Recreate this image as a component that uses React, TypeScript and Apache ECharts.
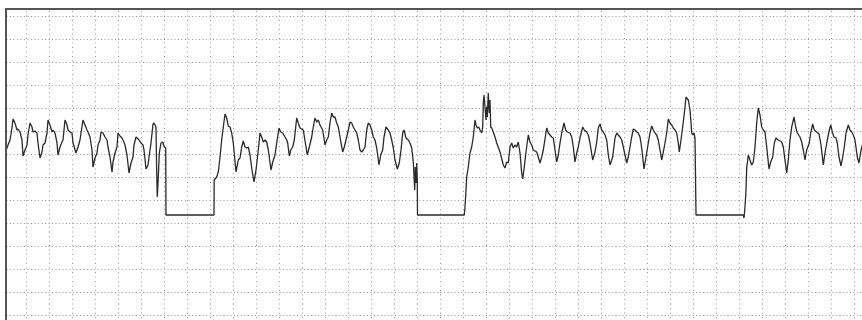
import React, { useEffect, useRef } from 'react';
import * as echarts from 'echarts';

// x: sample index, y: amplitude (arbitrary units); grid cell = 23 units on both axes
const DROPOUT = 123;

const seg1: [number, number][] = [
  [3, 188], [4, 190], [5, 193], [7, 198], [9, 210], [10, 219], [12, 215], [14, 208], [15, 209], [17, 206], [19, 198], [20, 182],
  [22, 188], [24, 193], [25, 203], [27, 215], [29, 211], [30, 206], [32, 207], [34, 205], [35, 195], [37, 180],
  [39, 186], [40, 193], [42, 195], [44, 205], [45, 218], [47, 213], [49, 206], [50, 208], [52, 205], [54, 195], [55, 183],
  [57, 191], [59, 196], [60, 198], [62, 218], [64, 213], [65, 208], [67, 206], [69, 205], [70, 195], [73, 185],
  [75, 191], [77, 198], [80, 218], [82, 213], [84, 208], [85, 206], [87, 201], [89, 188], [90, 171],
  [92, 180], [94, 185], [95, 193], [97, 198], [98, 206], [100, 205], [102, 201], [104, 198], [105, 191], [107, 181], [109, 166],
  [110, 176], [112, 185], [114, 191], [115, 205], [117, 202], [119, 200], [120, 198], [122, 193], [124, 183], [126, 165],
  [128, 175], [130, 181], [131, 193], [133, 201], [135, 199], [136, 198], [138, 195], [140, 193], [141, 188], [143, 169],
  [145, 173], [146, 181], [148, 195], [150, 214], [151, 215], [153, 211], [153.7, 165], [154.3, 141], [155.3, 161],
  [156.3, 185], [158, 195], [159.7, 196], [161.3, 191], [162.7, 190], [163, DROPOUT],
];

const gap1: [number, number][] = [[211, DROPOUT]];

const seg2: [number, number][] = [
  [211.2, 158], [213.7, 161], [215.3, 166], [217, 181], [218.7, 198], [220.3, 211], [222, 224], [223.7, 220], [225.3, 212],
  [227, 211], [228.7, 205], [230.3, 195], [233, 166], [235.3, 178], [237, 180], [238.7, 191], [240.3, 197], [242, 191],
  [243.7, 190], [245.3, 191], [247, 183], [248.7, 170], [251, 156], [253, 168], [255.3, 188], [257, 205], [258.7, 201],
  [260.3, 196], [262, 198], [263.7, 196], [265.3, 188], [268, 168], [269.7, 176], [272, 183], [273.7, 195], [276, 210],
  [277.7, 206], [279.7, 205], [282, 201], [283.7, 198], [284.7, 195], [286.3, 182], [287.7, 188], [289.7, 191], [291.3, 198],
  [293.7, 220], [295.3, 215], [297, 210], [300.3, 208], [303, 191], [304.3, 183], [306.3, 191], [308.7, 201], [310.3, 211],
  [312, 220], [313.7, 216], [315.3, 218], [317, 213], [319.7, 208], [322, 193], [323.7, 198], [325.3, 201], [327, 215],
  [328.7, 225], [330.3, 221], [332, 221], [333.7, 215], [335.3, 211], [337, 201], [339.7, 186], [341.3, 191], [343.7, 201],
  [345.3, 208], [347, 216], [348.7, 215], [350.3, 211], [352, 208], [353.7, 205], [355.3, 198], [357, 188], [358.7, 186],
  [360.3, 188], [362, 191], [363.7, 208], [365.3, 215], [367, 213], [368.7, 208], [370.3, 201], [372, 198], [373.7, 190],
  [376, 173], [377.7, 183], [379.7, 188], [381, 201], [383, 211], [385.3, 208], [387, 205], [388.7, 198], [390.3, 190],
  [392, 178], [394.3, 169], [396.3, 175], [398, 188], [399.7, 205], [401, 208], [403, 200], [405.3, 198], [407, 195],
  [408.7, 190], [410.3, 176], [411.7, 148], [412.3, 171], [413, 155], [413.7, 175], [414.3, 158], [414.5, DROPOUT],
];

const gap2: [number, number][] = [[461.3, DROPOUT]];

const seg3: [number, number][] = [
  [462, 131], [463, 148], [463.7, 161], [465.3, 171], [467, 185], [468.7, 191], [470.3, 201], [472, 218], [473, 213],
  [474.3, 210], [475.7, 211], [477, 208], [478.7, 205], [479.7, 211], [480.3, 235], [481, 243], [482, 231], [483, 218],
  [483.7, 231], [484.3, 221], [485.3, 245], [486.3, 225], [487, 238], [487.7, 211], [488.7, 210], [490.3, 206], [492, 201],
  [493.7, 195], [497, 186], [500.3, 173], [502, 170], [503.7, 176], [505.3, 175], [507, 191], [508.7, 195], [510.3, 190],
  [512, 193], [513.7, 191], [515.3, 196], [517, 185], [518.7, 165], [519.7, 159], [521.3, 171], [523, 186], [525.3, 203],
  [527, 196], [528.7, 193], [530.3, 188], [533.7, 186], [537, 175], [538.7, 181], [540.3, 188], [543.7, 210], [545.3, 205],
  [547, 203], [548.7, 201], [550.3, 200], [552, 188], [553.7, 176], [555.3, 183], [557, 195], [558.7, 205], [561, 215],
  [562.7, 208], [564.3, 206], [567, 205], [568.7, 201], [570.3, 191], [572, 176], [573.7, 185], [575.3, 191], [577, 200],
  [579.7, 211], [581.3, 208], [583.7, 206], [585.3, 203], [587, 195], [589.7, 178], [592, 186], [593.7, 196], [595.3, 210],
  [597, 214], [598.7, 208], [600.3, 206], [602, 203], [603.7, 198], [605.3, 183], [607, 173], [609.7, 181], [612, 200],
  [613.7, 205], [617, 201], [618.7, 198], [620.3, 191], [622, 183], [623.7, 175], [625.3, 181], [627, 191], [628.7, 201],
  [630.3, 209], [632, 208], [633.7, 206], [635.3, 205], [637, 201], [638.7, 190], [641, 169], [643, 181], [645.3, 195],
  [647, 205], [648.7, 212], [650.3, 208], [652, 205], [653.7, 203], [655.3, 198], [657, 188], [658.7, 178], [660.3, 186],
  [662, 195], [663.7, 205], [665.3, 219], [667, 215], [668.7, 213], [670.3, 210], [672, 208], [673.7, 205], [675.3, 195],
  [676.3, 186], [678, 198], [680.3, 216], [682, 231], [683, 241], [685.3, 238], [687, 228], [688, 215], [688.7, 205],
  [689.7, 203], [691, 205], [692, 200], [693, DROPOUT],
];

const gap3: [number, number][] = [[740.3, DROPOUT], [741, 120]];

const seg4: [number, number][] = [
  [742, 131], [743, 148], [743.7, 170], [745.3, 183], [747, 178], [748.7, 173], [750.3, 176], [752, 191], [753.7, 215],
  [755.3, 230], [757, 223], [758.7, 211], [760.3, 208], [762, 206], [763.7, 191], [766, 169], [767.7, 176], [769.7, 181],
  [771.3, 195], [773, 200], [775.3, 198], [778.7, 196], [780.3, 191], [782, 178], [783.7, 165], [785.3, 178], [787, 198],
  [788.7, 211], [791, 221], [792.7, 211], [794.3, 205], [797, 201], [798.7, 196], [800.3, 188], [802, 178], [803.7, 188],
  [806.3, 195], [807.7, 205], [809.7, 214], [811.3, 208], [813.7, 206], [816, 204], [818, 193], [820.3, 173], [822, 185],
  [824.3, 198], [826.3, 208], [827.7, 213], [829.3, 206], [831, 201], [833, 200], [834.3, 195], [836, 181], [838, 172],
  [839.7, 181], [841.3, 191], [843, 205], [845.3, 213], [847, 208], [848.7, 206], [850.3, 203], [852, 198], [854.3, 181],
  [856, 175], [857.7, 186], [859.3, 193],
];

const X_MIN = 0;
const X_MAX = 874;
const Y_MIN = 0;
const Y_MAX = 345;
const STEP = 23;

export default function App() {
  const ref = useRef<HTMLDivElement>(null);
  useEffect(() => {
    if (!ref.current) return;
    const chart = echarts.init(ref.current, null, { renderer: 'svg' });
    const data = [...seg1, ...gap1, ...seg2, ...gap2, ...seg3, ...gap3, ...seg4];
    chart.setOption({
      animation: false,
      backgroundColor: '#ffffff',
      grid: { left: 3, top: -7, width: 874, height: 345, outerBoundsMode: 'none', containLabel: false },
      xAxis: {
        type: 'value',
        min: X_MIN,
        max: X_MAX,
        interval: STEP,
        axisLine: { show: false },
        axisTick: { show: false },
        axisLabel: { show: false },
        splitLine: { show: true, lineStyle: { color: '#999999', width: 1, type: [1, 3.5] } },
      },
      yAxis: {
        type: 'value',
        min: Y_MIN,
        max: Y_MAX,
        interval: STEP,
        axisLine: { show: false },
        axisTick: { show: false },
        axisLabel: { show: false },
        splitLine: { show: true, lineStyle: { color: '#999999', width: 1, type: [1, 2.5] } },
      },
      series: [
        {
          type: 'line',
          data,
          symbol: 'none',
          lineStyle: { color: '#2a2a2a', width: 1.3 },
          z: 5,
        },
      ],
      graphic: [
        { type: 'rect', z: 100, shape: { x: 0, y: 0, width: 5, height: 320 }, style: { fill: '#ffffff' } },
        { type: 'rect', z: 100, shape: { x: 0, y: 0, width: 862, height: 8 }, style: { fill: '#ffffff' } },
        { type: 'rect', z: 101, shape: { x: 5, y: 8, width: 857, height: 2 }, style: { fill: '#555555' } },
        { type: 'rect', z: 101, shape: { x: 5, y: 8, width: 2, height: 312 }, style: { fill: '#555555' } },
      ],
    });
    return () => chart.dispose();
  }, []);
  return (
    <div
      ref={ref}
      style={{ position: 'fixed', left: 0, top: 0, width: 862, height: 320 }}
    />
  );
}
